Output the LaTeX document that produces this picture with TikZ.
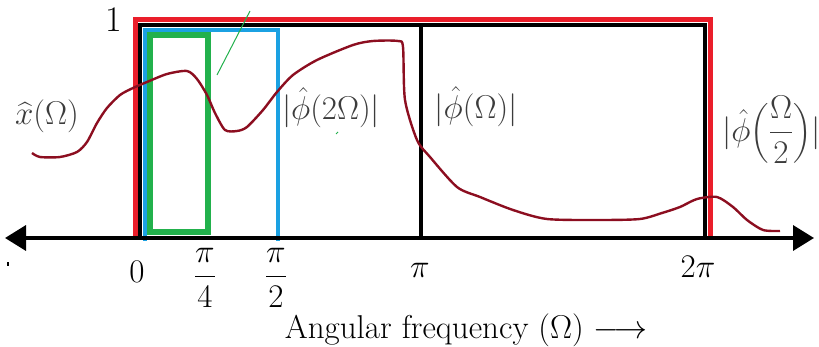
\documentclass[tikz,border=0pt]{standalone}
\usepackage{fix-cm}
\usepackage{amsmath}
\usetikzlibrary{arrows.meta}
\definecolor{redbox}{RGB}{234,30,42}
\definecolor{bluebox}{RGB}{27,161,226}
\definecolor{greenbox}{RGB}{34,177,76}
\definecolor{spectrum}{RGB}{140,14,32}
\definecolor{lblgray}{RGB}{60,60,60}

\begin{document}
\begin{tikzpicture}[x=1pt,y=-1pt,
  big/.style={font=\fontsize{33}{38}\selectfont},
  lbl/.style={big,text=lblgray,inner sep=0pt},
  tick/.style={big,inner sep=0pt},
  axisline/.style={line width=3.5pt,
    {Triangle[length=21pt,width=25pt]}-{Triangle[length=21pt,width=25pt]}}]
\useasboundingbox (0,0) rectangle (819,347);
\coordinate (L) at (5,238);
\coordinate (R) at (814,238);
\coordinate (R0) at (135,238);
\coordinate (R1) at (710,20);
\coordinate (K0) at (140,238);
\coordinate (K1) at (704.5,25);
\coordinate (P) at (420.5,238);
\coordinate (B0) at (145,241);
\coordinate (B1) at (277.5,30);
\coordinate (G0) at (150,232.5);
\coordinate (G1) at (207.5,35.5);
\draw[redbox,line width=5pt] (R0) |- (R1) -- (R1 |- R0);
\draw[line width=4pt] (K0) |- (K1) -- (K1 |- K0);
\draw[line width=4pt] (P) -- (P |- K1);
\draw[bluebox,line width=4pt] (B0) |- (B1) -- (B1 |- B0);
\draw[greenbox,line width=6pt] (G0) rectangle (G1);
\draw[greenbox,line width=1pt] (217,75) -- (250,11);
\draw[greenbox,line width=1pt] (336,134) -- (338,132);
\fill (7,262) rectangle (9,266);
\draw[spectrum,line width=2.4pt,line join=round] plot[smooth,tension=0.45] coordinates {
  (32,153) (40,157) (60,157) (77,152) (87,142) (97,123) (107,108) (120,95)
  (133,88) (147,82) (167,74) (187,71) (197,79) (207,95) (215,113) (225,130)
  (237,131) (247,127) (263,110) (277,92) (293,75) (317,60) (353,45) (373,41)
  (398,41) (403,47) (405,100) (417,140) (430,157) (457,187) (480,197) (513,210)
  (547,219) (600,220) (640,219) (662,213) (680,207) (697,199) (717,197) (733,207)
  (747,220) (763,230) (780,231)};
\draw[axisline] (L) -- (R);
\node[big,font=\fontsize{36}{40}\selectfont] (one) at (114,20) {1};
\node[lbl] (xhat) at (47,116) {$\widehat{x}(\Omega)$};
\node[lbl] (phi2) at (331,108) {$|\hat{\phi}(2\Omega)|$};
\node[lbl] (phi1) at (476,107) {$|\hat{\phi}(\Omega)|$};
\node[lbl,anchor=west] (phihalf) at (722,130) {$|\hat{\phi}\Bigl(\dfrac{\Omega}{2}\Bigr)|$};
\node[tick,anchor=base] (t0) at (137,283) {$0$};
\node[tick,anchor=base] (t1) at (205,285) {$\dfrac{\pi}{4}$};
\node[tick,anchor=base] (t2) at (276,285) {$\dfrac{\pi}{2}$};
\node[tick,anchor=base] (t3) at (420,278) {$\pi$};
\node[tick,anchor=base] (t4) at (698,278) {$2\pi$};
\node[big,anchor=base] (xlabel) at (466,338) {Angular frequency $(\Omega)$ $\longrightarrow$};
\end{tikzpicture}
\end{document}
